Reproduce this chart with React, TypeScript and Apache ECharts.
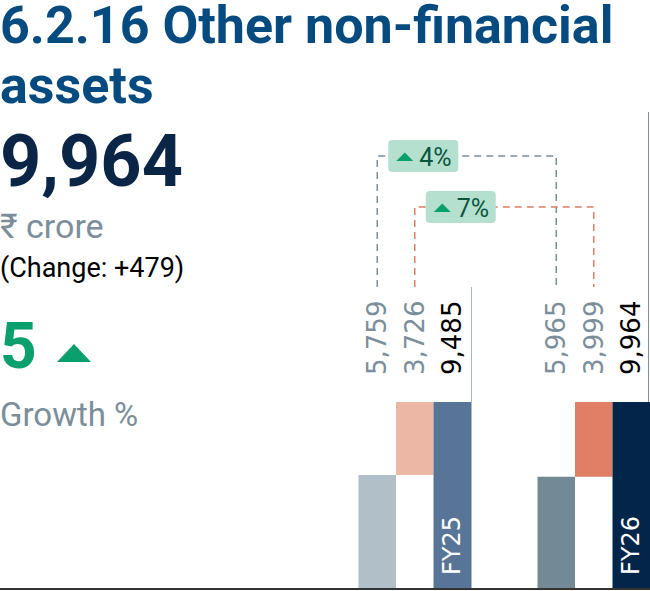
import React, { useEffect, useRef } from "react";
import * as echarts from "echarts";

// ---- data ----
const categories = ["FY25", "FY26"];
const openingPart = [5759, 5965]; // grey bars
const addedPart = [3726, 3999]; // salmon bars
const totals = [9485, 9964]; // total bars
const growthLabels = ["4%", "7%"]; // [grey growth, salmon growth]
const titleLines = ["6.2.16 Other non-financial", "assets"];
const headline = "9,964";
const unitText = "₹ crore";
const changeText = "(Change: +479)";
const growthValue = "5";
const growthText = "Growth %";

// ---- styles ----
const greyColors = ["#b1bfc8", "#738a96"];
const salmonColors = ["#ecb8a5", "#e07e66"];
const totalColors = ["#587597", "#03254a"];
const GREY_TEXT = "#7b8e9a";
const SALMON = "#e07e66";
const TITLE = "#064b80";
const NAVY = "#0b2547";
const GREEN = "#0aa06e";
const SANS = "Roboto, 'Noto Sans', sans-serif";
const LABEL_FONT = "'DejaVu Sans', sans-serif";
const BAR = 37.5;
const SPACER = 66.5;

const fmt = (v: number) => v.toLocaleString("en-US");
const greyPct = openingPart.map((v, i) => (v / totals[i]) * 100);
const salmonPct = addedPart.map((v, i) => (v / totals[i]) * 100);

const topLabel = (color: string, values: number[]) => ({
  show: true,
  position: "top",
  rotate: 90,
  align: "left",
  verticalAlign: "middle",
  distance: 27,
  fontSize: 26,
  fontFamily: LABEL_FONT,
  color,
  formatter: (p: any) => fmt(values[p.dataIndex]),
});

function txt(text: string, x: number, baseline: number, size: number, weight: string, color: string) {
  return {
    type: "text",
    x,
    y: baseline - 0.34 * size,
    silent: true,
    style: {
      text,
      fontSize: size,
      fontWeight: weight,
      fontFamily: SANS,
      fill: color,
      align: "left",
      verticalAlign: "middle",
      lineHeight: Math.round(size * 0.9),
    },
  };
}

export default function App() {
  const ref = useRef<HTMLDivElement>(null);
  useEffect(() => {
    if (!ref.current) return;
    const chart = echarts.init(ref.current, undefined, { renderer: "svg" });
    const transparent = { color: "rgba(0,0,0,0)" };
    chart.setOption({
      animation: false,
      grid: { left: 292, right: 0, top: 402, bottom: 3 },
      xAxis: { type: "category", data: categories, show: false },
      yAxis: { type: "value", min: 0, max: 100, show: false },
      series: [
        { type: "bar", data: [0, 0], barWidth: SPACER, barGap: "0%", itemStyle: transparent, silent: true },
        {
          type: "bar",
          stack: "g",
          barWidth: BAR,
          barGap: "0%",
          silent: true,
          data: greyPct.map((v, i) => ({ value: v, itemStyle: { color: greyColors[i] } })),
        },
        {
          type: "bar",
          stack: "g",
          barWidth: BAR,
          barGap: "0%",
          silent: true,
          itemStyle: transparent,
          data: greyPct.map((v) => 100 - v),
          label: topLabel(GREY_TEXT, openingPart),
        },
        { type: "bar", stack: "s", barWidth: BAR, barGap: "0%", silent: true, itemStyle: transparent, data: greyPct },
        {
          type: "bar",
          stack: "s",
          barWidth: BAR,
          barGap: "0%",
          silent: true,
          data: salmonPct.map((v, i) => ({ value: v, itemStyle: { color: salmonColors[i] } })),
          label: topLabel(GREY_TEXT, addedPart),
        },
        {
          type: "bar",
          stack: "t",
          barWidth: BAR,
          barGap: "0%",
          silent: true,
          data: totals.map((_, i) => ({ value: 100, itemStyle: { color: totalColors[i] } })),
          label: {
            show: true,
            position: "insideBottom",
            rotate: 90,
            align: "left",
            verticalAlign: "middle",
            distance: 13,
            fontSize: 24,
            fontFamily: LABEL_FONT,
            color: "#ffffff",
            formatter: (p: any) => categories[p.dataIndex],
          },
        },
        {
          type: "bar",
          stack: "t",
          barWidth: BAR,
          barGap: "0%",
          silent: true,
          itemStyle: transparent,
          data: [0, 0],
          label: topLabel("#000000", totals),
        },
      ],
    });

    // annotation geometry derived from the category scale
    const catW = (650 - 292) / categories.length;
    const left = categories.map((c) => (chart.convertToPixel({ xAxisIndex: 0 }, c) as number) - catW / 2);
    const greyX = left.map((l) => l + SPACER + BAR / 2);
    const salmonX = left.map((l) => l + SPACER + BAR * 1.5);
    const bottomY = chart.convertToPixel({ yAxisIndex: 0 }, 0) as number;
    const lineBottom = 287;
    const connectors = [
      { x1: greyX[0], x2: greyX[1], y: 156, color: GREY_TEXT, label: growthLabels[0] },
      { x1: salmonX[0], x2: salmonX[1], y: 207, color: SALMON, label: growthLabels[1] },
    ];

    const graphic: any[] = [
      txt(titleLines[0], 0, 43, 52, "bold", TITLE),
      txt(titleLines[1], 0, 103, 52, "bold", TITLE),
      txt(headline, 0, 186, 72, "bold", NAVY),
      txt(unitText, 0, 238, 34, "normal", GREY_TEXT),
      txt(changeText, 0, 277, 27, "normal", "#000000"),
      txt(growthValue, 0, 368, 64, "bold", GREEN),
      {
        type: "polygon",
        silent: true,
        shape: { points: [[57, 362], [74, 344], [91, 362]] },
        style: { fill: GREEN },
      },
      txt(growthText, 0, 426, 33, "normal", GREY_TEXT),
      // baseline
      {
        type: "line",
        silent: true,
        shape: { x1: 0, y1: bottomY + 1, x2: 650, y2: bottomY + 1 },
        style: { stroke: "#333333", lineWidth: 2 },
      },
      // separator between the years
      {
        type: "line",
        silent: true,
        shape: { x1: left[1] + 0.5, y1: lineBottom, x2: left[1] + 0.5, y2: bottomY },
        style: { stroke: "#a9b8c3", lineWidth: 1 },
      },
      {
        type: "line",
        silent: true,
        shape: { x1: 648.5, y1: 112, x2: 648.5, y2: bottomY },
        style: { stroke: "#7f909c", lineWidth: 1 },
      },
    ];

    connectors.forEach((c) => {
      graphic.push({
        type: "polyline",
        silent: true,
        shape: { points: [[c.x1, lineBottom], [c.x1, c.y], [c.x2, c.y], [c.x2, lineBottom]] },
        style: { stroke: c.color, lineWidth: 1.5, lineDash: [7, 5], fill: null },
      });
      const bx = c.x1 + 11;
      graphic.push({
        type: "rect",
        silent: true,
        shape: { x: bx, y: c.y - 16, width: 70, height: 32, r: 4 },
        style: { fill: "#b5e0d0" },
      });
      graphic.push({
        type: "polygon",
        silent: true,
        shape: { points: [[bx + 8, c.y + 5], [bx + 16.5, c.y - 3.5], [bx + 25, c.y + 5]] },
        style: { fill: GREEN },
      });
      graphic.push({
        type: "text",
        silent: true,
        x: bx + 31,
        y: c.y + 1.5,
        style: {
          text: c.label,
          fontSize: 25,
          fontFamily: SANS,
          fill: "#0b553e",
          align: "left",
          verticalAlign: "middle",
        },
      });
    });

    chart.setOption({ graphic });
    return () => chart.dispose();
  }, []);

  return (
    <div
      ref={ref}
      style={{ position: "absolute", left: 0, top: 0, width: 650, height: 591, background: "#ffffff" }}
    />
  );
}
